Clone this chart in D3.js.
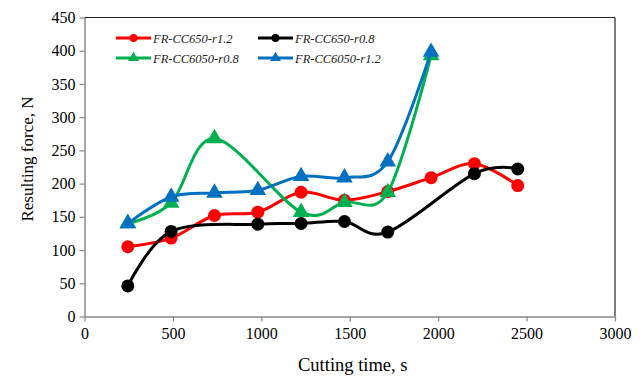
<!DOCTYPE html>
<html>
<head>
<meta charset="utf-8">
<script src="https://cdn.jsdelivr.net/npm/d3@7.9.0/dist/d3.min.js"></script>
<style>
  body { margin: 0; background: #fff; }
  svg, svg text { font-family: 'Times New Roman', 'Liberation Serif', Times, 'DejaVu Serif', serif !important; }
</style>
</head>
<body>
<svg id="chart" width="642" height="376"></svg>
<script>
// cutting times (s)
const times = [245, 490, 735, 980, 1225, 1470, 1715, 1960, 2205, 2450];

// resulting force (N); null where the series has no point
const redVals   = [105, 118, 152, 157, 187, 175, 188, 209, 230, 197];
const blackVals = [46, 128, null, 139, 140, 143, 127, null, 215, 222];
const greenVals = [140, 171, 268, null, 157, 172, 187, 393, null, null];
const blueVals  = [140, 180, 186, 190, 211, 209, 233, 398, null, null];

const seriesNames = ['FR-CC650-r1.2', 'FR-CC650-r0.8', 'FR-CC6050-r0.8', 'FR-CC6050-r1.2'];
const xTicks = [0, 500, 1000, 1500, 2000, 2500, 3000];
const yTicks = [0, 50, 100, 150, 200, 250, 300, 350, 400, 450];

const series = [
  { name: seriesNames[0], values: redVals,   color: '#ff0000', marker: 'circle' },
  { name: seriesNames[1], values: blackVals, color: '#000000', marker: 'circle' },
  { name: seriesNames[2], values: greenVals, color: '#00b050', marker: 'triangle' },
  { name: seriesNames[3], values: blueVals,  color: '#0070c0', marker: 'triangle' },
];

const margin = { left: 84.5, right: 27, top: 17.5, bottom: 59.5 };
const W = 642, H = 376;

const x = d3.scaleLinear().domain([0, 3000]).range([margin.left, W - margin.right]);
const y = d3.scaleLinear().domain([0, 450]).range([H - margin.bottom, margin.top]);

const svg = d3.select('#chart');

// frame: top and right in dark, axes in grey
svg.append('line')
  .attr('x1', x(0)).attr('x2', x(3000)).attr('y1', y(450)).attr('y2', y(450))
  .attr('stroke', '#222').attr('stroke-width', 1.2);
svg.append('line')
  .attr('x1', x(3000)).attr('x2', x(3000)).attr('y1', y(450)).attr('y2', y(0))
  .attr('stroke', '#222').attr('stroke-width', 1.2);

const xAxis = svg.append('g')
  .attr('transform', `translate(0,${y(0)})`)
  .call(d3.axisBottom(x).tickValues(xTicks).tickFormat(d3.format('d'))
    .tickSize(5).tickPadding(6).tickSizeOuter(0));
const yAxis = svg.append('g')
  .attr('transform', `translate(${x(0)},0)`)
  .call(d3.axisLeft(y).tickValues(yTicks).tickFormat(d3.format('d'))
    .tickSize(5).tickPadding(4).tickSizeOuter(0));

[xAxis, yAxis].forEach((g) => {
  g.attr('font-family', null);
  g.select('.domain').attr('stroke', '#888').attr('stroke-width', 1.5);
  g.selectAll('.tick line').attr('stroke', '#888').attr('stroke-width', 1.2);
  g.selectAll('.tick text')
    .attr('fill', '#000')
    .attr('font-size', 16);
});

// axis titles
svg.append('text')
  .attr('x', (x(0) + x(3000)) / 2 + 3).attr('y', 371)
  .attr('text-anchor', 'middle').attr('font-size', 18.5)
  .text('Cutting time, s');
svg.append('text')
  .attr('transform', `translate(33,${(y(0) + y(450)) / 2 - 8}) rotate(-90)`)
  .attr('text-anchor', 'middle').attr('font-size', 17)
  .text('Resulting force, N');

const line = d3.line()
  .defined((d) => d.v !== null)
  .x((d) => x(d.t))
  .y((d) => y(d.v))
  .curve(d3.curveCatmullRom.alpha(0));

const triangle = d3.symbol().type(d3.symbolTriangle).size(120);

function drawMarker(g, s, px, py) {
  if (s.marker === 'circle') {
    g.append('circle').attr('cx', px).attr('cy', py).attr('r', 6.5).attr('fill', s.color);
  } else {
    g.append('path').attr('d', triangle())
      .attr('transform', `translate(${px},${py})`).attr('fill', s.color);
  }
}

series.forEach((s) => {
  const pts = times.map((t, i) => ({ t: t, v: s.values[i] })).filter((d) => d.v !== null);
  const g = svg.append('g');
  g.append('path')
    .datum(pts)
    .attr('d', line)
    .attr('fill', 'none')
    .attr('stroke', s.color)
    .attr('stroke-width', 3);
  pts.forEach((d) => drawMarker(g, s, x(d.t), y(d.v)));
});

// legend
const legendPos = [[116, 38], [258, 38], [116, 58], [258, 58]];
series.forEach((s, i) => {
  const [lx, ly] = legendPos[i];
  const g = svg.append('g');
  g.append('line')
    .attr('x1', lx).attr('x2', lx + 35).attr('y1', ly).attr('y2', ly)
    .attr('stroke', s.color).attr('stroke-width', 3);
  if (s.marker === 'circle') {
    g.append('circle').attr('cx', lx + 17.5).attr('cy', ly).attr('r', 4).attr('fill', s.color);
  } else {
    g.append('path').attr('d', d3.symbol().type(d3.symbolTriangle).size(50)())
      .attr('transform', `translate(${lx + 17.5},${ly})`).attr('fill', s.color);
  }
  g.append('text')
    .attr('x', lx + 37).attr('y', ly + 4.5)
    .attr('font-size', 12.5).attr('font-style', 'italic')
    .attr('fill', '#222')
    .text(s.name);
});
</script>
</body>
</html>
